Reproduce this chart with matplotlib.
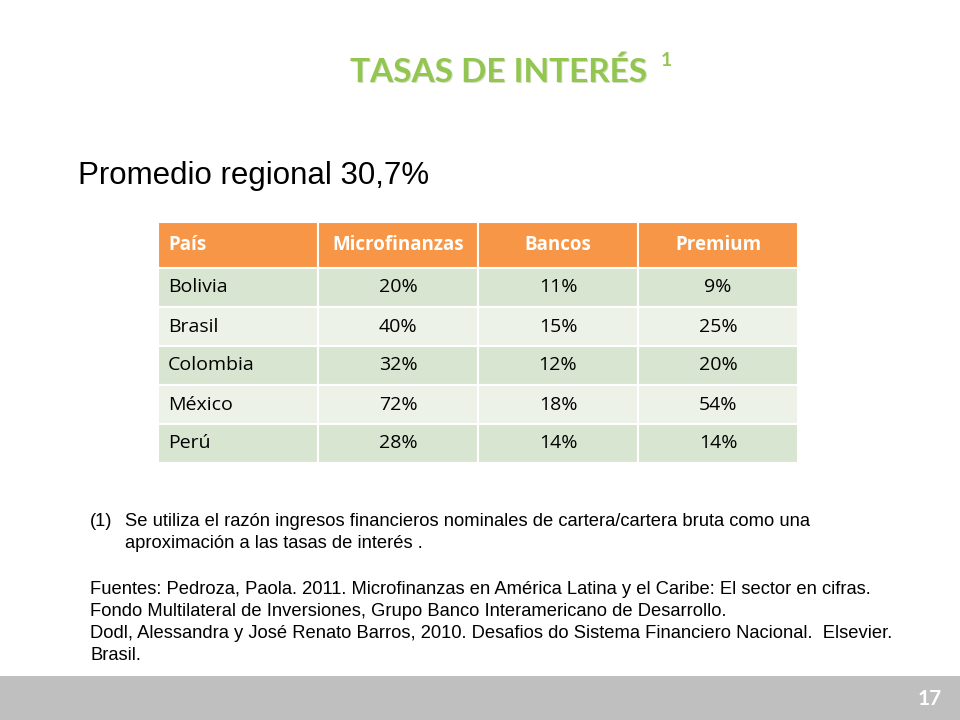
import matplotlib
matplotlib.use("Agg")
import matplotlib.pyplot as plt
from matplotlib.patches import Rectangle

headers = ["País", "Microfinanzas", "Bancos", "Premium"]
countries = ["Bolivia", "Brasil", "Colombia", "México", "Perú"]
micro = ["20%", "40%", "32%", "72%", "28%"]
bancos = ["11%", "15%", "12%", "18%", "14%"]
premium = ["9%", "25%", "20%", "54%", "14%"]

fig = plt.figure(figsize=(9.6, 7.2), dpi=100)
ax = fig.add_axes([0, 0, 1, 1])
ax.set_xlim(0, 960); ax.set_ylim(720, 0); ax.axis("off")

# Title
ax.text(500, 73, "TASAS DE INTERÉS", color="#6d8f3a", fontsize=24, fontweight="bold",
        family="Lato", ha="center", va="center", alpha=0.3)
ax.text(499, 72, "TASAS DE INTERÉS", color="#92c650", fontsize=24, fontweight="bold",
        family="Lato", ha="center", va="center")
ax.text(666, 60, "1", color="#92c650", fontsize=14, fontweight="bold", family="Lato",
        ha="center", va="center")

ax.text(78, 176, "Promedio regional 30,7%", fontsize=22.5, family="Liberation Sans",
        ha="left", va="center", color="black")

# Table
colx = [158, 318, 478, 638, 798]
rowy = [222, 268, 307, 346, 385, 424, 463]
for i, h in enumerate(headers):
    ax.add_patch(Rectangle((colx[i], rowy[0]), colx[i+1]-colx[i], rowy[1]-rowy[0],
                           facecolor="#f79646", edgecolor="white", lw=1.5))
    ax.text(colx[i] + 10 if i == 0 else (colx[i]+colx[i+1])/2, (rowy[0]+rowy[1])/2, h,
            color="white", fontweight="bold", fontsize=13.5, family="Open Sans",
            ha="left" if i == 0 else "center", va="center")
for r, vals in enumerate(zip(countries, micro, bancos, premium)):
    fc = "#d8e5d0" if r % 2 == 0 else "#ecf2e8"
    for i, v in enumerate(vals):
        ax.add_patch(Rectangle((colx[i], rowy[r+1]), colx[i+1]-colx[i], rowy[r+2]-rowy[r+1],
                               facecolor=fc, edgecolor="white", lw=1.5))
        ax.text(colx[i] + 10 if i == 0 else (colx[i]+colx[i+1])/2, (rowy[r+1]+rowy[r+2])/2, v,
                color="black", fontsize=14, family="Open Sans",
                ha="left" if i == 0 else "center", va="center")

# Footnotes
fs = 13.2
ff = "Liberation Sans"
ax.text(90, 521, "(1)", fontsize=fs, family=ff, va="center")
ax.text(125, 521, "Se utiliza el razón ingresos financieros nominales de cartera/cartera bruta como una",
        fontsize=fs, family=ff, va="center")
ax.text(125, 543, "aproximación a las tasas de interés .", fontsize=fs, family=ff, va="center")
lines = ["Fuentes: Pedroza, Paola. 2011. Microfinanzas en América Latina y el Caribe: El sector en cifras.",
         "Fondo Multilateral de Inversiones, Grupo Banco Interamericano de Desarrollo.",
         "Dodl, Alessandra y José Renato Barros, 2010. Desafios do Sistema Financiero Nacional.  Elsevier.",
         "Brasil."]
for k, l in enumerate(lines):
    ax.text(90, 589 + k*22, l, fontsize=fs, family=ff, va="center")

# Bottom bar
ax.add_patch(Rectangle((0, 676), 960, 44, facecolor="#bfbfbf", edgecolor="none"))
ax.text(930, 699, "17", color="white", fontweight="bold", fontsize=15, family="Lato",
        ha="center", va="center")

fig.savefig("out.png", dpi=100)
